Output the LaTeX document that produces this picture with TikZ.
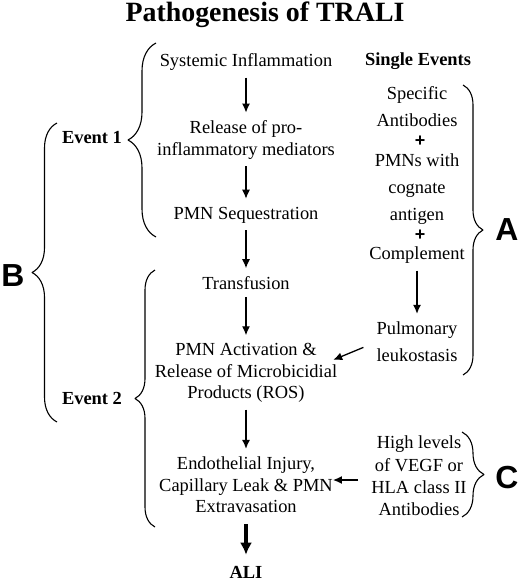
\documentclass[tikz,border=0pt]{standalone}
\usepackage{fontspec}
\setmainfont{Liberation Serif}
\newfontfamily\letterfont{Liberation Sans}
\usetikzlibrary{arrows.meta,%
                decorations.pathreplacing,calc}
\tikzstyle{txt}=[align=center,inner sep=0pt,font=\fontsize{18.5}{21.5}\selectfont]
\tikzstyle{wide}=[align=center,inner sep=0pt,font=\fontsize{18.5}{27}\selectfont]
\tikzstyle{head}=[inner sep=0pt,font=\fontsize{18.5}{21.5}\selectfont\bfseries]
\tikzstyle{letter}=[inner sep=0pt,font=\letterfont\bfseries\fontsize{32}{32}\selectfont]
\tikzstyle{plus}=[inner sep=0pt,font=\letterfont\bfseries\fontsize{18}{18}\selectfont]
\tikzstyle{flow}=[-{Latex[length=9bp,width=8bp]},line width=1.3bp,shorten <=7bp,shorten >=8bp]
\tikzstyle{bigflow}=[-{Latex[length=12bp,width=12bp]},line width=3.5bp,shorten <=11bp,shorten >=11bp]
\tikzset{curly/.style={decorate,decoration={brace,amplitude=#1},line width=1.1bp}}

\begin{document}
\begin{tikzpicture}[line join=bevel]
	\useasboundingbox (0,0) rectangle (520bp,-582bp);
	%% main chain
	\node (title) at (265bp,-15bp) [font=\fontsize{28}{28}\selectfont\bfseries,inner sep=0pt] {Pathogenesis of TRALI};
	  \node (sys) at (246bp,-62bp) [txt] {Systemic Inflammation};
	  \node (rel) at (246bp,-140bp) [txt] {Release of pro-\\inflammatory mediators};
	  \node (seq) at (246bp,-215bp) [txt] {PMN Sequestration};
	  \node (trf) at (246bp,-283bp) [txt] {Transfusion};
	  \node (act) at (246bp,-373bp) [txt] {PMN Activation \&\\Release of Microbicidial\\Products (ROS)};
	  \node (endo) at (246bp,-485bp) [txt] {Endothelial Injury,\\Capillary Leak \& PMN\\Extravasation};
	  \node (ali) at (246bp,-572bp) [head] {ALI};
	%% single events
	  \node (single) at (418bp,-61bp) [head] {Single Events};
	  \node (spec) at (417bp,-107bp) [wide] {Specific\\Antibodies};
	  \node (plusa) at (420bp,-141bp) [plus] {+};
	  \node (pmns) at (417bp,-189bp) [wide] {PMNs with\\cognate\\antigen};
	  \node (plusb) at (420bp,-235bp) [plus] {+};
	  \node (comp) at (417bp,-255bp) [txt] {Complement};
	  \node (pulm) at (417bp,-342bp) [wide] {Pulmonary\\leukostasis};
	  \node (vegf) at (419bp,-476bp) [txt,font=\fontsize{18.5}{22.5}\selectfont] {High levels\\of VEGF or\\HLA class II\\Antibodies};
	%% labels
	  \node (ev1) at (92bp,-138bp) [head] {Event 1};
	  \node (ev2) at (92bp,-398bp) [head] {Event 2};
	  \node (A) at (507bp,-230bp) [letter] {A};
	  \node (B) at (13bp,-276bp) [letter] {B};
	  \node (C) at (507bp,-478bp) [letter] {C};
	%% arrows
	  \draw [flow] (sys) -- (rel);
	  \draw [flow] (rel) -- (seq);
	  \draw [flow] (seq) -- (trf);
	  \draw [flow] (trf) -- (act);
	  \draw [flow] (act) -- (endo);
	  \draw [bigflow] (endo) -- (ali);
	  \draw [flow] (comp) -- (pulm);
	  \draw [flow,shorten <=14bp,shorten >=1bp] (pulm.west) -- ([xshift=-5bp,yshift=-17bp]act.north east);
	  \draw [flow,shorten <=13bp,shorten >=0bp] ([yshift=-4bp]vegf.west) -- ([yshift=-4bp]vegf.west -| endo.east);
	%% braces
	  \draw [curly=28bp] (156bp,-237bp) -- (156bp,-43bp);
	  \draw [curly=20bp] (155bp,-527bp) -- (155bp,-270bp);
	  \draw [curly=25bp] (57bp,-422bp) -- (57bp,-123bp);
	  \draw [curly=20bp] (463bp,-85bp) -- (463bp,-375bp);
	  \draw [curly=22bp] (462bp,-432bp) -- (462bp,-517bp);
	%
\end{tikzpicture}
\end{document}
